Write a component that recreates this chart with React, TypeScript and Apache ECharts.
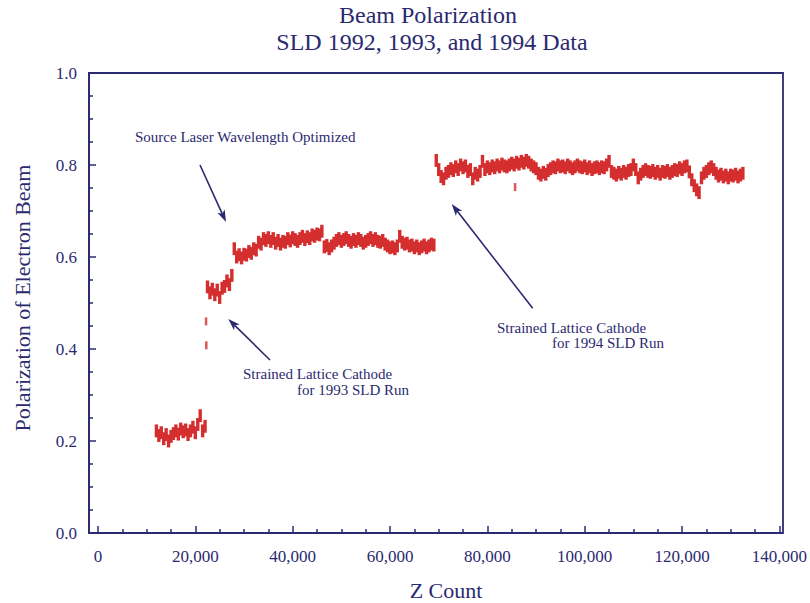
import React, { useEffect, useRef } from "react";
import * as echarts from "echarts";

// ---- data (polarization) ----
const run1992Start = 12000;
const run1993Start = 22500;
const run1994Start = 69500;
const sampleStep = 500;
const polError = 0.014; // half-height of each measurement bar

const pol1992 = [
  0.222, 0.212, 0.218, 0.205, 0.214, 0.2, 0.21, 0.216, 0.222, 0.215, 0.226,
  0.22, 0.224, 0.214, 0.222, 0.23, 0.218, 0.236, 0.255, 0.222, 0.232,
];

const pol1993 = [
  0.535, 0.522, 0.53, 0.518, 0.528, 0.512, 0.532, 0.536, 0.548, 0.54, 0.56,
  0.618, 0.6, 0.605, 0.598, 0.606, 0.604, 0.612, 0.608, 0.618, 0.615,
  0.632, 0.628, 0.64, 0.636, 0.642, 0.634, 0.64, 0.63, 0.636, 0.628, 0.634,
  0.632, 0.64, 0.635, 0.642, 0.638, 0.634, 0.64, 0.645, 0.638, 0.644, 0.64,
  0.648, 0.645, 0.65, 0.648, 0.656,
  0.622, 0.625, 0.618, 0.624,
  0.63, 0.636, 0.64, 0.634, 0.638, 0.642, 0.636, 0.632, 0.638, 0.634, 0.64,
  0.636, 0.63, 0.634, 0.638, 0.642, 0.636, 0.64, 0.634, 0.632, 0.636,
  0.628, 0.624, 0.62, 0.622, 0.618, 0.624,
  0.645, 0.632, 0.628, 0.63, 0.624, 0.626, 0.62, 0.624, 0.618, 0.622, 0.626,
  0.62, 0.624, 0.628, 0.626,
];

const pol1994 = [
  0.81, 0.79, 0.775, 0.77, 0.782, 0.786,
  0.792, 0.788, 0.796, 0.79, 0.8, 0.794, 0.798, 0.786, 0.79,
  0.77, 0.782, 0.778, 0.786, 0.808,
  0.79, 0.796, 0.792, 0.798, 0.794, 0.8, 0.796, 0.802, 0.798, 0.796, 0.8,
  0.804, 0.8, 0.806, 0.802, 0.808, 0.804, 0.81, 0.806, 0.8, 0.796, 0.792,
  0.782, 0.778, 0.784, 0.78,
  0.788, 0.792, 0.796, 0.794, 0.8, 0.796, 0.798, 0.794, 0.8, 0.796, 0.792,
  0.796, 0.8, 0.796, 0.794,
  0.798, 0.792, 0.796, 0.79, 0.794, 0.796, 0.792, 0.796, 0.794, 0.8, 0.808,
  0.786, 0.782, 0.778, 0.784, 0.78, 0.786, 0.782, 0.788, 0.79,
  0.8, 0.79, 0.772, 0.78,
  0.786, 0.79, 0.786, 0.784, 0.788, 0.782, 0.786, 0.78, 0.786, 0.784, 0.788,
  0.782, 0.786, 0.79, 0.788, 0.794, 0.79, 0.796, 0.798,
  0.785, 0.768, 0.755, 0.746, 0.74, 0.772,
  0.782, 0.786, 0.792, 0.796, 0.79,
  0.782, 0.776, 0.78, 0.774, 0.778, 0.772, 0.778, 0.776, 0.78, 0.774, 0.778,
  0.782,
];

// isolated readings (1993 cathode change, one low 1994 reading)
const strayZ = [22200, 22250, 85700];
const strayPol = [0.46, 0.408, 0.752];

const xTicks = [0, 20000, 40000, 60000, 80000, 100000, 120000, 140000];
const yTicks = [0, 0.2, 0.4, 0.6, 0.8, 1.0];

const NAVY = "#2b2a70";
const RED = "#d42e2e";
const FONT = "'Liberation Serif', 'Times New Roman', serif";

function toPairs(start: number, step: number, vals: number[]) {
  return vals.map((v, i) => [start + i * step, v]);
}

function arrow(x1: number, y1: number, x2: number, y2: number) {
  const dx = x2 - x1;
  const dy = y2 - y1;
  const len = Math.sqrt(dx * dx + dy * dy);
  const ux = dx / len;
  const uy = dy / len;
  const hl = 12;
  const hw = 4;
  const bx = x2 - ux * hl;
  const by = y2 - uy * hl;
  const px = -uy * hw;
  const py = ux * hw;
  return [
    {
      type: "line",
      shape: { x1, y1, x2: bx + ux * 3, y2: by + uy * 3 },
      style: { stroke: NAVY, lineWidth: 1.6 },
    },
    {
      type: "polygon",
      shape: {
        points: [
          [x2, y2],
          [bx + px, by + py],
          [bx + ux * 3, by + uy * 3],
          [bx - px, by - py],
        ],
      },
      style: { fill: NAVY },
    },
  ];
}

function txt(x: number, y: number, text: string, size: number, align = "left") {
  return {
    type: "text",
    x,
    y,
    style: {
      text,
      fill: NAVY,
      font: `${size}px ${FONT}`,
      textAlign: align,
      textVerticalAlign: "middle",
    },
  };
}

function runSeries(data: number[][]) {
  return {
    type: "custom",
    xAxisIndex: 1,
    yAxisIndex: 1,
    data,
    clip: true,
    renderItem: (params: any, api: any) => {
      const z = api.value(0);
      const p = api.value(1);
      const top = api.coord([z, p + polError]);
      const bot = api.coord([z, p - polError]);
      return {
        type: "rect",
        shape: {
          x: top[0] - 1.7,
          y: top[1],
          width: 3.4,
          height: bot[1] - top[1],
        },
        style: { fill: RED },
      };
    },
  };
}

export default function App() {
  const ref = useRef<HTMLDivElement>(null);
  useEffect(() => {
    if (!ref.current) return;
    const chart = echarts.init(ref.current, undefined, { renderer: "svg" });
    const axisText = { color: NAVY, fontFamily: FONT, fontSize: 17 };
    const tickStyle = { color: NAVY, width: 1.5 };
    chart.setOption({
      animation: false,
      backgroundColor: "#ffffff",
      grid: [
        { left: 89, right: 27, top: 73, bottom: 70 },
        { left: 98, right: 27, top: 73, bottom: 70 },
      ],
      xAxis: [
        {
          gridIndex: 0,
          type: "value",
          min: 0,
          max: 1,
          show: false,
        },
        {
          gridIndex: 1,
          type: "value",
          min: xTicks[0],
          max: xTicks[xTicks.length - 1],
          interval: xTicks[1] - xTicks[0],
          axisLine: { show: false },
          axisTick: { show: true, inside: true, length: 7, lineStyle: tickStyle },
          minorTick: { show: true, splitNumber: 4, length: 4, lineStyle: tickStyle },
          splitLine: { show: false },
          axisLabel: {
            ...axisText,
            margin: 15,
            formatter: (v: number) => v.toLocaleString("en-US"),
          },
        },
      ],
      yAxis: [
        {
          gridIndex: 0,
          type: "value",
          min: yTicks[0],
          max: yTicks[yTicks.length - 1],
          interval: 0.2,
          axisLine: { show: true, lineStyle: { color: NAVY, width: 1.8 } },
          axisTick: { show: true, inside: true, length: 7, lineStyle: tickStyle },
          minorTick: { show: true, splitNumber: 4, length: 4, lineStyle: tickStyle },
          splitLine: { show: false },
          axisLabel: {
            ...axisText,
            margin: 12,
            formatter: (v: number) => v.toFixed(1),
          },
        },
        {
          gridIndex: 1,
          type: "value",
          min: yTicks[0],
          max: yTicks[yTicks.length - 1],
          show: false,
        },
      ],
      series: [
        runSeries(toPairs(run1992Start, sampleStep, pol1992)),
        runSeries(toPairs(run1993Start, sampleStep, pol1993)),
        runSeries(toPairs(run1994Start, sampleStep, pol1994)),
        {
          type: "scatter",
          xAxisIndex: 1,
          yAxisIndex: 1,
          data: strayZ.map((z, i) => [z, strayPol[i]]),
          symbol: "rect",
          symbolSize: [2.5, 8],
          itemStyle: { color: RED },
        },
      ],
      graphic: [
        {
          type: "rect",
          shape: { x: 89, y: 73, width: 694, height: 460 },
          style: { fill: "none", stroke: NAVY, lineWidth: 1.8 },
          z: 10,
        },
        txt(428, 15, "Beam Polarization", 24, "center"),
        txt(432, 42, "SLD 1992, 1993, and 1994 Data", 24, "center"),
        txt(446, 590, "Z Count", 22, "center"),
        {
          type: "text",
          x: 22,
          y: 298,
          rotation: Math.PI / 2,
          style: {
            text: "Polarization of Electron Beam",
            fill: NAVY,
            font: `22px ${FONT}`,
            textAlign: "center",
            textVerticalAlign: "middle",
          },
        },
        txt(135, 137, "Source Laser Wavelength Optimized", 15),
        txt(243, 374, "Strained Lattice Cathode", 15),
        txt(297, 390, "for 1993 SLD Run", 15),
        txt(497, 328, "Strained Lattice Cathode", 15),
        txt(552, 343, "for 1994 SLD Run", 15),
        ...arrow(200, 165, 226, 222),
        ...arrow(270, 360, 228.3, 319),
        ...arrow(532.7, 308.3, 451.7, 204),
      ],
    });
    return () => chart.dispose();
  }, []);
  return (
    <div
      ref={ref}
      style={{ position: "fixed", left: 0, top: 0, width: 810, height: 603 }}
    />
  );
}
